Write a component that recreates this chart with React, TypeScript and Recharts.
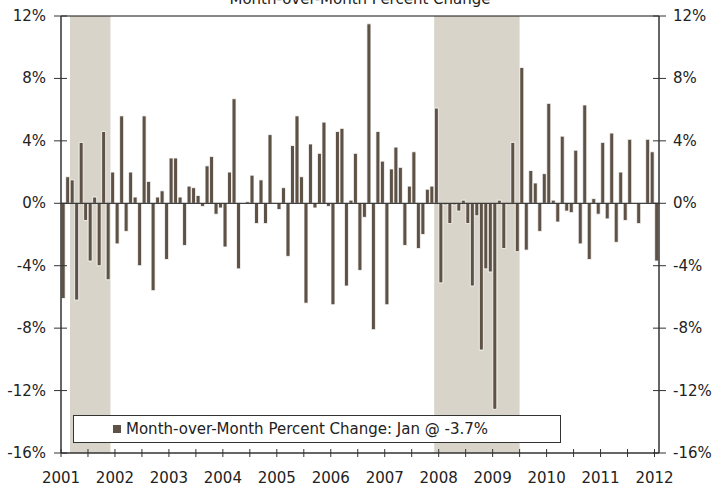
import React from 'react'
import { BarChart, Bar, XAxis, YAxis, ReferenceArea, ReferenceLine } from 'recharts'

// month-over-month % change, one array per year (Jan..Dec)
const v2001 = [-6.1, 1.7, 1.5, -6.2, 3.9, -1.1, -3.7, 0.4, -4.0, 4.6, -4.9, 2.0]
const v2002 = [-2.6, 5.6, -1.8, 2.0, 0.4, -4.0, 5.6, 1.4, -5.6, 0.4, 0.8, -3.6]
const v2003 = [2.9, 2.9, 0.4, -2.7, 1.1, 1.0, 0.5, -0.2, 2.4, 3.0, -0.7, -0.3]
const v2004 = [-2.8, 2.0, 6.7, -4.2, 0.0, 0.1, 1.8, -1.3, 1.5, -1.3, 4.4, 0.0]
const v2005 = [-0.4, 1.0, -3.4, 3.7, 5.6, 1.7, -6.4, 3.8, -0.3, 3.2, 5.2, -0.2]
const v2006 = [-6.5, 4.6, 4.8, -5.3, 0.2, 3.2, -4.3, -0.9, 11.5, -8.1, 4.6, 2.7]
const v2007 = [-6.5, 2.2, 3.6, 2.3, -2.7, 1.1, 3.3, -2.9, -2.0, 0.9, 1.1, 6.1]
const v2008 = [-5.1, -0.1, -1.3, -0.1, -0.5, 0.2, -1.3, -5.3, -0.8, -9.4, -4.2, -4.4]
const v2009 = [-13.2, 0.2, -2.9, 0.0, 3.9, -3.1, 8.7, -3.0, 2.1, 1.3, -1.8, 1.9]
const v2010 = [6.4, 0.2, -1.2, 4.3, -0.5, -0.6, 3.4, -2.6, 6.3, -3.6, 0.3, -0.7]
const v2011 = [3.9, -1.0, 4.5, -2.5, 2.0, -1.1, 4.1, 0.0, -1.3, 0.0, 4.1, 3.3]
const v2012 = [-3.7]

const years = [2001, 2002, 2003, 2004, 2005, 2006, 2007, 2008, 2009, 2010, 2011, 2012]
const yearValues = [v2001, v2002, v2003, v2004, v2005, v2006, v2007, v2008, v2009, v2010, v2011, v2012]
const yTicks = [-16, -12, -8, -4, 0, 4, 8, 12]
const recessions = [
  ['2001-03', '2001-11'],
  ['2007-12', '2009-06'],
]

const data = yearValues.flatMap((vals, yi) =>
  vals.map((value, m) => ({
    month: `${years[yi]}-${String(m + 1).padStart(2, '0')}`,
    value,
  }))
)
const halfYearTicks = data.filter((d, i) => i % 6 === 0).map((d) => d.month)

const W = 715
const H = 487
const PLOT_LEFT = 61
const PLOT_RIGHT = 659
const PLOT_TOP = 16
const PLOT_BOTTOM = 453
const FONT = '"DejaVu Sans", Verdana, sans-serif'
const BAR = '#5e5246'
const AXIS = '#333333'

// draws the tick on both the left and the right axis (same scale)
function BothSidesTick({ y, payload }: any) {
  const label = `${payload.value}%`
  return (
    <g>
      <line x1={PLOT_LEFT - 7} x2={PLOT_LEFT + 6} y1={y} y2={y} stroke={AXIS} />
      <text x={PLOT_LEFT - 15} y={y} dy={5} textAnchor="end" fontSize={15} fontFamily={FONT} fill="#222">
        {label}
      </text>
      <line x1={PLOT_RIGHT - 6} x2={PLOT_RIGHT + 7} y1={y} y2={y} stroke={AXIS} />
      <text x={PLOT_RIGHT + 14} y={y} dy={5} textAnchor="start" fontSize={15} fontFamily={FONT} fill="#222">
        {label}
      </text>
    </g>
  )
}

function XTick({ x, payload }: any) {
  const tx = x - (payload.offset ?? 2.25)
  const isYear = String(payload.value).endsWith('-01')
  return (
    <g>
      <line x1={tx} x2={tx} y1={PLOT_BOTTOM - 4} y2={PLOT_BOTTOM + 4} stroke={AXIS} />
      {isYear && (
        <text x={tx} y={PLOT_BOTTOM + 30} textAnchor="middle" fontSize={15} fontFamily={FONT} fill="#222">
          {String(payload.value).slice(0, 4)}
        </text>
      )}
    </g>
  )
}

export default function App() {
  const last = data[data.length - 1]
  return (
    <div style={{ position: 'absolute', left: 0, top: 0, width: W, height: H, background: '#fff', overflow: 'hidden' }}>
      <div
        style={{
          position: 'absolute',
          left: PLOT_LEFT,
          width: PLOT_RIGHT - PLOT_LEFT,
          top: -8,
          textAlign: 'center',
          fontFamily: FONT,
          fontSize: 15,
          lineHeight: '15px',
          color: '#222',
        }}
      >
        Month-over-Month Percent Change
      </div>
      <BarChart
        width={W}
        height={H}
        data={data}
        margin={{ top: PLOT_TOP, right: 0, bottom: 0, left: 0 }}
        barCategoryGap="4%"
      >
        {recessions.map(([a, b]) => (
          <ReferenceArea key={a} x1={a} x2={b} yAxisId="left" fill="#d8d4c9" fillOpacity={1} stroke="none" ifOverflow="visible" />
        ))}
        <XAxis
          dataKey="month"
          height={H - PLOT_BOTTOM}
          ticks={halfYearTicks}
          interval={0}
          tickLine={false}
          tick={<XTick />}
          axisLine={{ stroke: AXIS, strokeWidth: 1.5 }}
        />
        <YAxis
          yAxisId="left"
          width={PLOT_LEFT}
          domain={[-16, 12]}
          ticks={yTicks}
          interval={0}
          tickLine={false}
          tick={<BothSidesTick />}
          axisLine={{ stroke: AXIS, strokeWidth: 1.5 }}
        />
        <YAxis
          yAxisId="right"
          orientation="right"
          width={W - PLOT_RIGHT}
          domain={[-16, 12]}
          tick={false}
          tickLine={false}
          axisLine={{ stroke: AXIS, strokeWidth: 1.5 }}
        />
        <ReferenceLine y={12} yAxisId="left" stroke="#111" strokeWidth={1} />
        <Bar
          dataKey="value"
          yAxisId="left"
          name="Month-over-Month Percent Change"
          fill={BAR}
          stroke="#fff"
          strokeWidth={0.8}
          isAnimationActive={false}
        />
        <ReferenceLine y={0} yAxisId="left" stroke="#111" strokeWidth={1} />
      </BarChart>
      <div
        style={{
          position: 'absolute',
          left: 73,
          top: 415,
          width: 486,
          height: 26,
          border: `1px solid ${AXIS}`,
          background: '#fff',
          display: 'flex',
          alignItems: 'center',
          fontFamily: FONT,
          fontSize: 15,
          color: '#222',
        }}
      >
        <span style={{ width: 8, height: 8, background: BAR, marginLeft: 39, marginRight: 5 }} />
        <span>Month-over-Month Percent Change: Jan @ {last.value.toFixed(1)}%</span>
      </div>
    </div>
  )
}
